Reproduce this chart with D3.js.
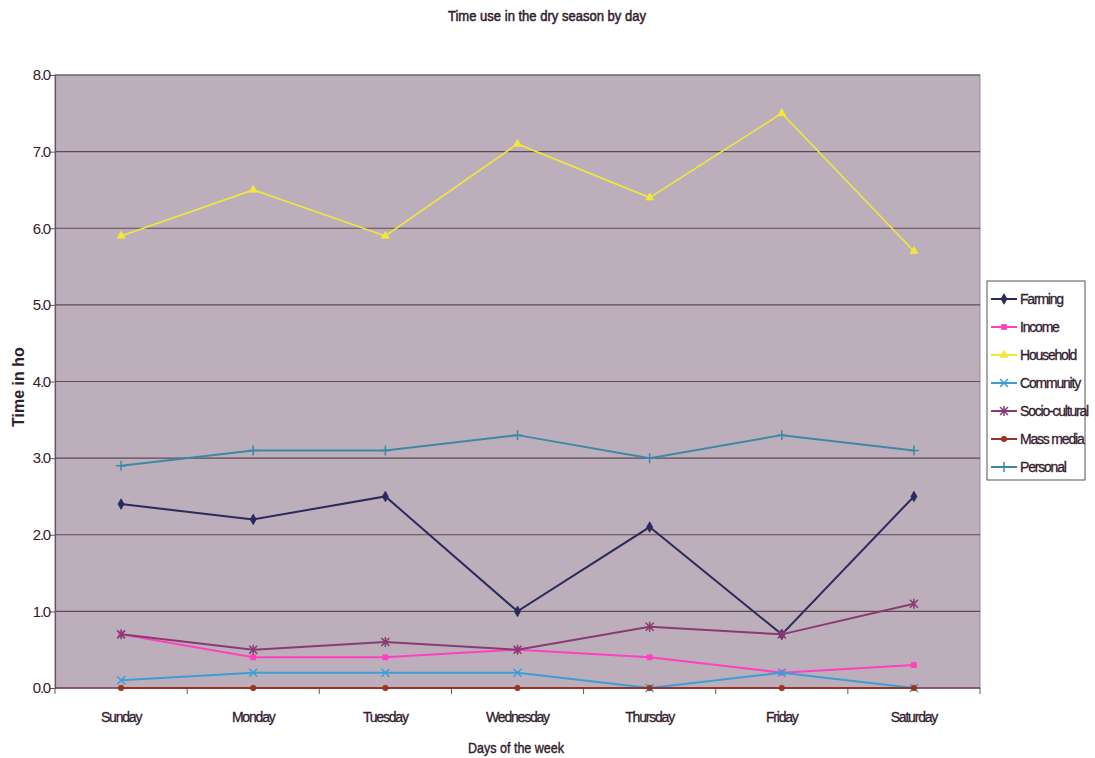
<!DOCTYPE html>
<html><head><meta charset="utf-8">
<script src="https://cdn.jsdelivr.net/npm/d3@7"></script>
<style>
body{margin:0;background:#fff;}
svg{display:block;}
text{font-family:"Liberation Sans Narrow","Liberation Sans",Arial,sans-serif;fill:#33202e;}
</style></head>
<body>
<svg id="chart" width="1095" height="758"></svg>
<script>
const days = ["Sunday","Monday","Tuesday","Wednesday","Thursday","Friday","Saturday"];
const seriesNames = ["Farming","Income","Household","Community","Socio-cultural","Mass media","Personal"];
const farming      = [2.4, 2.2, 2.5, 1.0, 2.1, 0.7, 2.5];
const income       = [0.7, 0.4, 0.4, 0.5, 0.4, 0.2, 0.3];
const household    = [5.9, 6.5, 5.9, 7.1, 6.4, 7.5, 5.7];
const community    = [0.1, 0.2, 0.2, 0.2, 0.0, 0.2, 0.0];
const socioCultural= [0.7, 0.5, 0.6, 0.5, 0.8, 0.7, 1.1];
const massMedia    = [0.0, 0.0, 0.0, 0.0, 0.0, 0.0, 0.0];
const personal     = [2.9, 3.1, 3.1, 3.3, 3.0, 3.3, 3.1];
const yTicks = [0,1,2,3,4,5,6,7,8];
const yTickLabels = ["0.0","1.0","2.0","3.0","4.0","5.0","6.0","7.0","8.0"];

const seriesValues = [farming, income, household, community, socioCultural, massMedia, personal];
const colors = ["#2b2a5c","#ff40c0","#f4e63a","#3a9fd6","#8a3a72","#9a3424","#3d88a6"];
const markers = ["diamond","square","triangle","cross","star","circle","plus"];

const svg = d3.select("#chart");
const L = 55, R = 980, T = 75, B = 688;

svg.append("rect").attr("x",L).attr("y",T).attr("width",R-L).attr("height",B-T)
  .attr("fill","#bcafbb").attr("stroke","#9a8a98").attr("stroke-width",1);

const x = d3.scalePoint().domain(days).range([L,R]).padding(0.5);
const y = d3.scaleLinear().domain([0,8]).range([B,T]);

// gridlines
svg.append("g").selectAll("line").data(yTicks.filter(v=>v>0)).join("line")
  .attr("x1",L).attr("x2",R).attr("y1",d=>y(d)).attr("y2",d=>y(d))
  .attr("stroke","#5e4a52").attr("stroke-width",1.2);

// y axis
const yAxis = d3.axisLeft(y).tickValues(yTicks).tickSize(5).tickFormat((d,i)=>yTickLabels[i]);
const gy = svg.append("g").attr("transform",`translate(${L},0)`).call(yAxis);
gy.select(".domain").attr("stroke","#6a5060").attr("stroke-width",1.2);
gy.selectAll(".tick line").attr("stroke","#6a5060");
gy.selectAll(".tick text").attr("font-size",15).attr("fill","#4a3646").attr("x",-5)
  .attr("letter-spacing","-1.2px");

// x axis with ticks at boundaries
const step = x.step();
const boundaries = d3.range(days.length+1).map(i=>L + i*step);
const gx = svg.append("g");
gx.append("line").attr("x1",L).attr("x2",R).attr("y1",B).attr("y2",B).attr("stroke","#7a4048").attr("stroke-width",1.3);
gx.selectAll("line.tk").data(boundaries).join("line").attr("class","tk")
  .attr("x1",d=>d).attr("x2",d=>d).attr("y1",B).attr("y2",B+6).attr("stroke","#6a5060");
gx.selectAll("text").data(days).join("text")
  .attr("x",d=>x(d)).attr("y",722).attr("text-anchor","middle")
  .attr("font-size",14).attr("letter-spacing","-1.2px").attr("stroke","#33202e").attr("stroke-width",0.3).text(d=>d);

// titles
svg.append("text").attr("x",547).attr("y",21).attr("text-anchor","middle")
  .attr("font-size",14).attr("textLength",198).attr("lengthAdjust","spacingAndGlyphs")
  .attr("stroke","#33202e").attr("stroke-width",0.5)
  .text("Time use in the dry season by day");
svg.append("text").attr("x",516).attr("y",753).attr("text-anchor","middle")
  .attr("font-size",14).attr("textLength",96).attr("lengthAdjust","spacingAndGlyphs")
  .attr("stroke","#33202e").attr("stroke-width",0.4)
  .text("Days of the week");
svg.append("text").attr("transform","translate(24,427) rotate(-90)")
  .attr("font-family","Liberation Sans, Arial, sans-serif").attr("font-weight","bold")
  .attr("font-size",16).attr("fill","#3a2a36").text("Time in ho");

// marker symbol function
function markerPath(type){
  switch(type){
    case "diamond": return d3.symbol(d3.symbolDiamond, 32)();
    case "square": return d3.symbol(d3.symbolSquare, 25)();
    case "triangle": return d3.symbol(d3.symbolTriangle, 28)();
    case "circle": return d3.symbol(d3.symbolCircle, 24)();
    case "cross": return "M-4,-4L4,4M-4,4L4,-4";
    case "plus": return "M-5,0L5,0M0,-5L0,5";
    case "star": return "M-4,-4L4,4M-4,4L4,-4M0,-5L0,5";
  }
}

// lines
const line = d3.line().x((d,i)=>x(days[i])).y(d=>y(d));
seriesNames.forEach((name,si)=>{
  const vals = seriesValues[si];
  const g = svg.append("g");
  g.append("path").attr("d",line(vals)).attr("fill","none")
    .attr("stroke",colors[si]).attr("stroke-width",si===2?1.6:2);
  const open = ["cross","plus","star"].includes(markers[si]);
  g.selectAll("path.m").data(vals).join("path").attr("class","m")
    .attr("transform",(d,i)=>`translate(${x(days[i])},${y(d)})`)
    .attr("d",markerPath(markers[si]))
    .attr("fill",open?"none":colors[si])
    .attr("stroke",colors[si]).attr("stroke-width",open?1.5:0.8);
});

// legend
const lg = svg.append("g").attr("transform","translate(987,281)");
lg.append("rect").attr("width",98).attr("height",199).attr("fill","#fff").attr("stroke","#555").attr("stroke-width",1);
seriesNames.forEach((name,si)=>{
  const yy = 18 + si*28;
  lg.append("line").attr("x1",4).attr("x2",30).attr("y1",yy).attr("y2",yy)
    .attr("stroke",colors[si]).attr("stroke-width",2);
  const open = ["cross","plus","star"].includes(markers[si]);
  lg.append("path").attr("transform",`translate(17,${yy})`).attr("d",markerPath(markers[si]))
    .attr("fill",open?"none":colors[si]).attr("stroke",colors[si]).attr("stroke-width",open?1.5:0.8);
  lg.append("text").attr("x",33).attr("y",yy+5).attr("font-size",14)
    .attr("letter-spacing","-1.2px").attr("stroke","#33202e").attr("stroke-width",0.3).text(name);
});
</script>
</body></html>
